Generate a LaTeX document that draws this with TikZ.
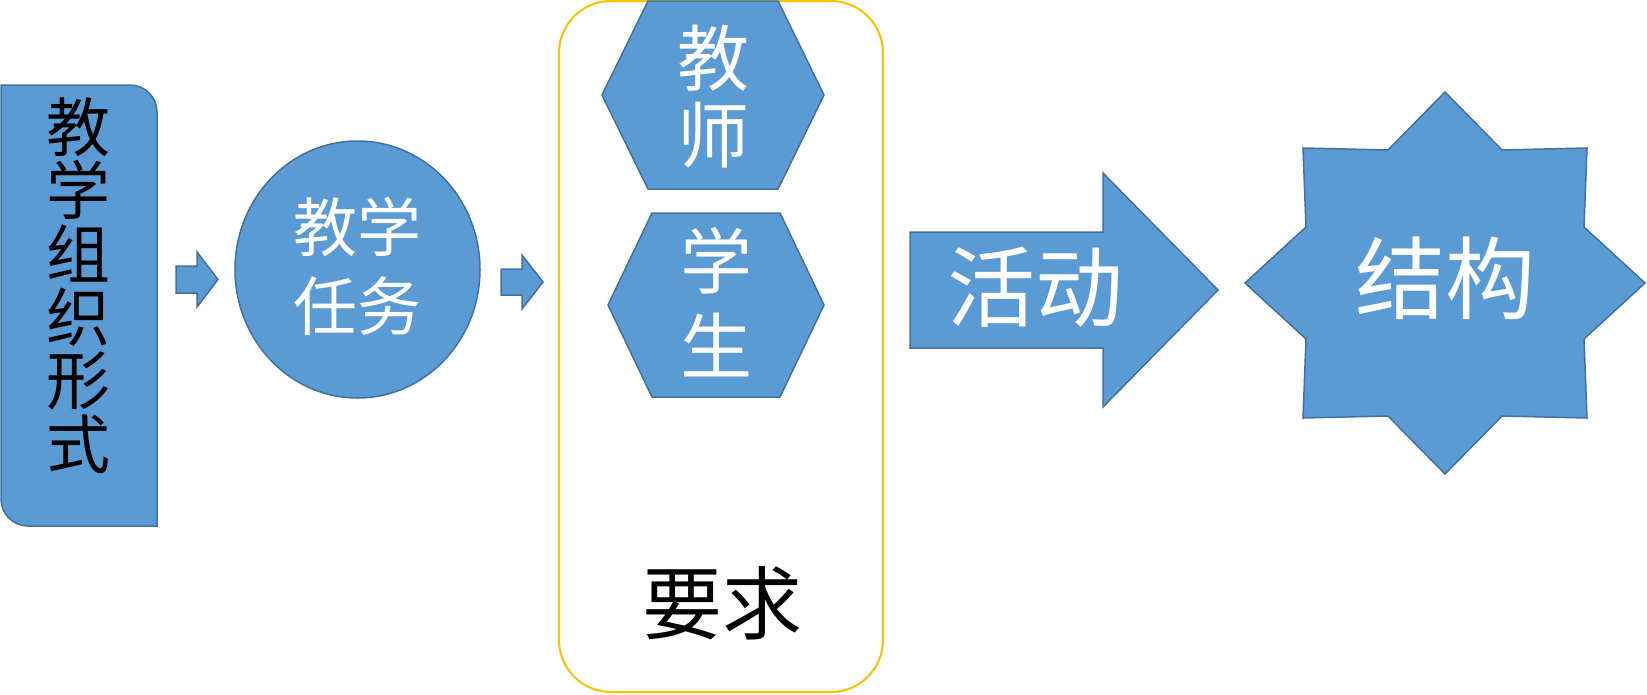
\documentclass[tikz,border=0pt]{standalone}
\usepackage{fontspec}
\newfontfamily\cjk{Noto Sans CJK SC}
\definecolor{bfill}{HTML}{5B9BD5}
\definecolor{bline}{HTML}{41719C}
\definecolor{ygold}{HTML}{FFC000}
\begin{document}
\begin{tikzpicture}[x=1pt,y=-1pt,
  shp/.style={fill=bfill,draw=bline,line width=1.5pt,line join=miter},
  wlbl/.style={text=white,align=center,inner sep=0pt},
  blbl/.style={text=black,align=center,inner sep=0pt}]
\useasboundingbox (0,0) rectangle (1647,694);
% left box
\draw[shp] (1,85) -- (130,85) .. controls (144.9,85) and (157,97.1) .. (157,112)
  -- (157,526) -- (28,526) .. controls (13.1,526) and (1,513.9) .. (1,499) -- cycle;
\node[blbl,font={\cjk\fontsize{64}{63.4}\selectfont}] (form) at (78,285.5) {教\\学\\组\\织\\形\\式};
% small arrow 1
\draw[shp] (176,266) -- (197,266) -- (197,252) -- (218,279.5) -- (197,307) -- (197,293) -- (176,293) -- cycle;
% circle
\draw[shp] (357.5,269.5) ellipse [x radius=122.5, y radius=128.5];
\node[wlbl,font={\cjk\fontsize{64}{79}\selectfont}] (task) at (357.5,266.5) {教学\\任务};
% small arrow 2
\draw[shp] (501,269) -- (522,269) -- (522,255) -- (543,282) -- (522,309) -- (522,295) -- (501,295) -- cycle;
% yellow frame
\draw[draw=ygold,line width=2pt,rounded corners=52pt] (559,1) rectangle (883,692);
% hexagons
\draw[shp] (648,1) -- (778,1) -- (824,95) -- (778,189) -- (648,189) -- (602,95) -- cycle;
\node[wlbl,font={\cjk\fontsize{72}{77}\selectfont}] (teacher) at (713.5,96.5) {教\\师};
\draw[shp] (652,213) -- (780,213) -- (824,305) -- (780,397) -- (652,397) -- (608,305) -- cycle;
\node[wlbl,font={\cjk\fontsize{72}{85}\selectfont}] (student) at (716,302) {学\\生};
\node[blbl,font={\cjk\fontsize{80}{80}\selectfont}] (req) at (722,603) {要求};
% big arrow
\draw[shp] (910,232) -- (1103,232) -- (1103,173) -- (1218,290) -- (1103,407) -- (1103,348) -- (910,348) -- cycle;
\node[wlbl,font={\cjk\fontsize{88}{88}\selectfont}] (act) at (1035,287) {活动};
% star
\draw[shp] (1445,92) -- (1502,150) -- (1587,148) -- (1584,227) -- (1645,283) -- (1584,339)
  -- (1587,418) -- (1502,416) -- (1445,474) -- (1388,416) -- (1303,418) -- (1306,339)
  -- (1245,283) -- (1306,227) -- (1303,148) -- (1388,150) -- cycle;
\node[wlbl,font={\cjk\fontsize{90}{90}\selectfont}] (struct) at (1445,278) {结构};
\end{tikzpicture}
\end{document}
